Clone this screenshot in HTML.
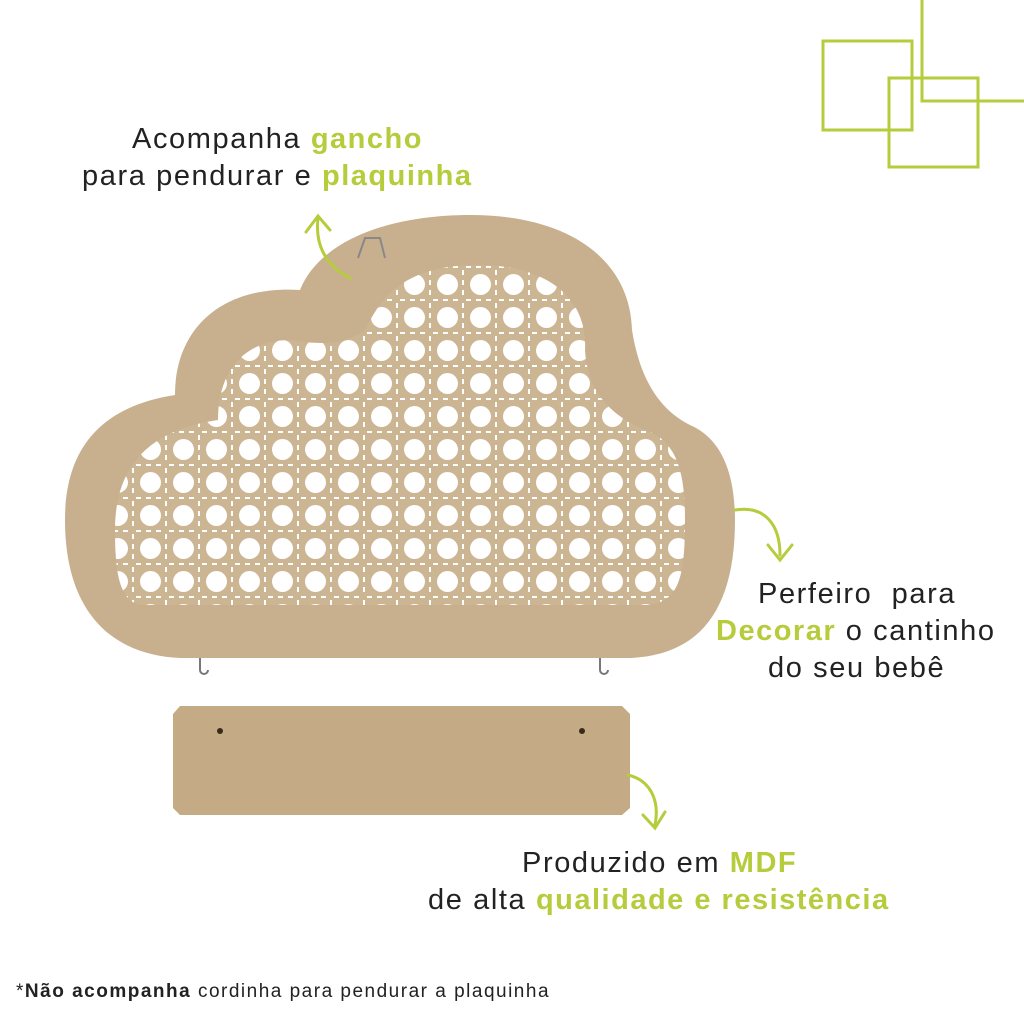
<!DOCTYPE html>
<html><head><style>
body{margin:0;width:1024px;height:1024px;background:#fff;position:relative;overflow:hidden;font-family:"Liberation Sans",sans-serif;color:#222}
.t{position:absolute;font-size:29px;line-height:36px;white-space:nowrap;letter-spacing:1.6px}
.g{color:#b6cc3c;font-weight:bold;letter-spacing:1.5px}
</style></head><body>
<svg width="1024" height="1024" style="position:absolute;left:0;top:0">
<defs>
<pattern id="rt" x="0" y="0" width="33" height="33" patternUnits="userSpaceOnUse" patternTransform="translate(2,4)">
<rect width="33" height="33" fill="#cbb592"/>
<circle cx="16.5" cy="16.5" r="10.5" fill="#fff"/>
<rect x="31" y="2" width="3" height="5" fill="#fff"/><rect x="31" y="12" width="3" height="5" fill="#fff"/><rect x="31" y="22" width="3" height="5" fill="#fff"/>
<rect x="2" y="31" width="5" height="3" fill="#fff"/><rect x="12" y="31" width="5" height="3" fill="#fff"/><rect x="22" y="31" width="5" height="3" fill="#fff"/>
</pattern>
</defs>
<g fill="none" stroke="#b6cc3c" stroke-width="3">
<rect x="823" y="41" width="89" height="89"/>
<rect x="889" y="78" width="89" height="89"/>
<path d="M922 0 V101 H1024"/>
</g>
<path d="M180 658 C110 655 65 610 65 520 C65 440 110 405 175 395 C175 330 220 285 300 290 C320 240 390 215 470 215 C570 215 630 260 632 330 C640 380 660 410 690 425 C725 440 735 480 735 520 C735 610 700 655 630 658 Z" fill="#c8b08f"/>
<path d="M140 605 C120 600 115 575 115 530 C115 465 150 430 218 420 C218 370 245 340 290 340 C320 345 345 345 365 330 C380 300 400 268 470 265 C550 263 588 300 585 350 C588 400 620 420 650 432 C680 445 685 480 685 520 C685 580 678 600 650 605 Z" fill="url(#rt)"/>
<path d="M358 258 L365 238 L380 238 L385 258" fill="none" stroke="#888" stroke-width="2"/>
<path d="M200 658 v12 a4 4 0 0 0 8 0" fill="none" stroke="#777" stroke-width="2"/>
<path d="M600 658 v12 a4 4 0 0 0 8 0" fill="none" stroke="#777" stroke-width="2"/>
<path d="M180 706 H622 L630 714 V808 L622 815 H180 L173 808 V714 Z" fill="#c5aa86"/>
<circle cx="220" cy="731" r="3" fill="#3a2a1a"/><circle cx="582" cy="731" r="3" fill="#3a2a1a"/>
<g fill="none" stroke="#b6cc3c" stroke-width="3" stroke-linecap="round">
<path d="M350 278 C325 265 315 245 318 218"/><path d="M306 232 L318 216 L330 230"/>
<path d="M735 510 C765 505 780 525 780 555"/><path d="M768 545 L780 560 L792 545"/>
<path d="M628 775 C650 780 660 800 655 825"/><path d="M643 815 L655 828 L665 812"/>
</g>
</svg>
<div class="t" style="left:132px;top:121px">Acompanha <span class="g">gancho</span></div>
<div class="t" style="left:82px;top:158px">para pendurar e <span class="g">plaquinha</span></div>
<div class="t" style="left:758px;top:576px">Perfeiro&nbsp; para</div>
<div class="t" style="left:716px;top:613px"><span class="g">Decorar</span> o cantinho</div>
<div class="t" style="left:768px;top:650px">do seu bebê</div>
<div class="t" style="left:522px;top:845px">Produzido em <span class="g">MDF</span></div>
<div class="t" style="left:428px;top:882px">de alta <span class="g">qualidade e resistência</span></div>
<div class="t" style="left:16px;top:974px;font-size:19px;letter-spacing:1.5px">*<b>Não acompanha</b> cordinha para pendurar a plaquinha</div>
</body></html>
